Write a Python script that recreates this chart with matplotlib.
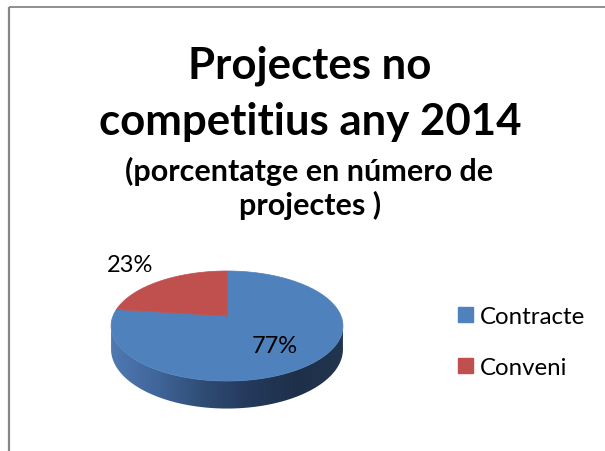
import numpy as np
import matplotlib
matplotlib.use("Agg")
import matplotlib.pyplot as plt
from matplotlib.patches import Polygon, Patch
from matplotlib.colors import LinearSegmentedColormap

categories = ["Contracte", "Conveni"]
values = [77, 23]
colors = ["#4F81BD", "#C0504D"]
title_lines = ["Projectes no", "competitius any 2014"]
subtitle_lines = ["(porcentatge en número de", "projectes )"]

FONT = "Lato"

fig = plt.figure(figsize=(6.05, 4.52), dpi=100)
ax = fig.add_axes([0, 0, 1, 1])
ax.set_xlim(0, 605)
ax.set_ylim(452, 0)
ax.axis("off")

# frame (cropped chart border)
ax.plot([8.5, 605], [7.5, 7.5], color="#868686", lw=1.3, solid_capstyle="butt")
ax.plot([8.5, 8.5], [7.5, 452], color="#868686", lw=1.6, solid_capstyle="butt")

# titles
ax.text(310, 66, title_lines[0], ha="center", va="center", fontsize=31.5,
        fontweight="bold", family=FONT)
ax.text(310, 122, title_lines[1], ha="center", va="center", fontsize=31.5,
        fontweight="bold", family=FONT)
ax.text(309, 171, subtitle_lines[0], ha="center", va="center", fontsize=22,
        fontweight="bold", family=FONT)
ax.text(310, 205, subtitle_lines[1], ha="center", va="center", fontsize=22,
        fontweight="bold", family=FONT)

# 3D pie geometry (perspective ellipse)
x0, y0 = 227.0, 317.0
R, B, k, H = 114.0, 53.2, 0.182, 22.5


def proj(theta, z=0.0):
    u, v = np.cos(theta), np.sin(theta)
    w = 1 + k * v
    return x0 + R * u / w, y0 - B * v / w + z * H / w


# side of the pie (front)
a = np.arcsin(k)
th = np.linspace(np.pi + a, 2 * np.pi - a, 200)
xt, yt = proj(th, 0)
xb, yb = proj(th[::-1], 1)
side_pts = np.column_stack([np.concatenate([xt, xb]), np.concatenate([yt, yb])])
side = Polygon(side_pts, closed=True, facecolor="none", edgecolor="none")
ax.add_patch(side)
cmap = LinearSegmentedColormap.from_list(
    "side", ["#5079B2", "#40659A", "#2F4C73", "#24395B", "#1E3049", "#22354F"])
grad = np.linspace(0, 1, 256)[None, :]
im = ax.imshow(grad, cmap=cmap, aspect="auto",
               extent=[xt.min(), xt.max(), yb.max() + 2, yt.min() - 2],
               zorder=2, interpolation="bilinear")
im.set_clip_path(side)
ax.set_xlim(0, 605)
ax.set_ylim(452, 0)

# top wedges: first slice starts at 12 o'clock, clockwise
total = float(sum(values))
start = np.pi / 2
for cat, val, col in zip(categories, values, colors):
    sweep = 2 * np.pi * val / total
    t = np.linspace(start, start - sweep, 300)
    px, py = proj(t, 0)
    pts = np.column_stack([np.concatenate([[x0], px]), np.concatenate([[y0], py])])
    ax.add_patch(Polygon(pts, closed=True, facecolor=col, edgecolor=col,
                         lw=0.5, zorder=3, label=cat))
    start -= sweep

# data labels
pcts = [f"{round(100 * v / total)}%" for v in values]
ax.text(275, 347, pcts[0], ha="center", va="center", fontsize=17,
        family=FONT, zorder=4)
ax.text(130, 266, pcts[1], ha="center", va="center", fontsize=17,
        family=FONT, zorder=4)

# legend
handles = [Patch(facecolor=c, edgecolor=c, label=l) for c, l in zip(colors, categories)]
leg = ax.legend(handles=handles, loc="center left", bbox_to_anchor=(458 / 605, 1 - 343 / 452),
                frameon=False, prop={"family": FONT, "size": 17.3},
                handlelength=0.62, handleheight=0.62, handletextpad=0.3,
                labelspacing=1.25, borderaxespad=0, borderpad=0)

fig.savefig("out.png", dpi=100)
